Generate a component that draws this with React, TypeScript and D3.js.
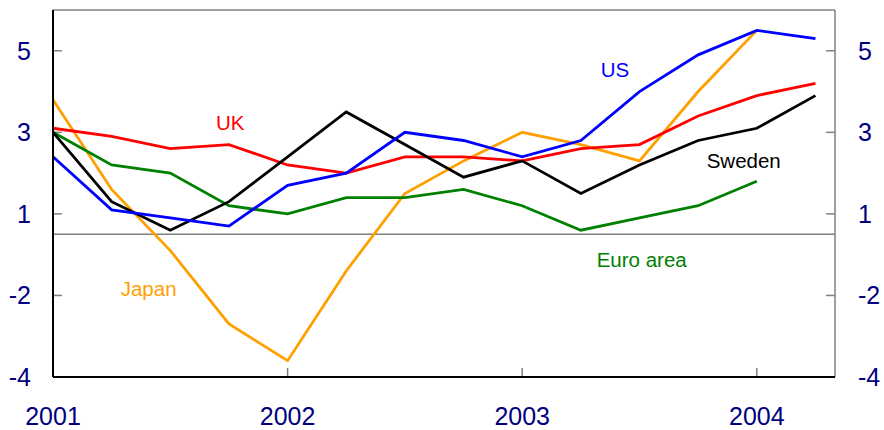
import { useRef, useEffect } from 'react';
import * as d3 from 'd3';

// quarterly observations, 2001Q1 .. 2004Q2
const quarters = [
  2001, 2001.25, 2001.5, 2001.75,
  2002, 2002.25, 2002.5, 2002.75,
  2003, 2003.25, 2003.5, 2003.75,
  2004, 2004.25,
];

const usValues = [2.4, 1.1, 0.9, 0.7, 1.7, 2.0, 3.0, 2.8, 2.4, 2.8, 4.0, 4.9, 5.5, 5.3];
const ukValues = [3.1, 2.9, 2.6, 2.7, 2.2, 2.0, 2.4, 2.4, 2.3, 2.6, 2.7, 3.4, 3.9, 4.2];
const swedenValues = [3.0, 1.3, 0.6, 1.3, 2.4, 3.5, 2.7, 1.9, 2.3, 1.5, 2.2, 2.8, 3.1, 3.9];
const euroValues = [3.0, 2.2, 2.0, 1.2, 1.0, 1.4, 1.4, 1.6, 1.2, 0.6, 0.9, 1.2, 1.8];
const japanValues = [3.8, 1.6, 0.1, -1.7, -2.6, -0.4, 1.5, 2.3, 3.0, 2.7, 2.3, 4.0, 5.5];

const seriesNames = ['Japan', 'Euro area', 'UK', 'Sweden', 'US'];
const seriesColors = ['#ffa000', '#008000', '#ff0000', '#000000', '#0000ff'];

const yTickValues = [5, 3, 1, -1, -3];
const yTickLabels = ['5', '3', '1', '-2', '-4'];
const xTickValues = [2001, 2002, 2003, 2004];
const xTickLabels = ['2001', '2002', '2003', '2004'];
const refLine = 0.5;

export default function App() {
  const svgRef = useRef<SVGSVGElement | null>(null);
  const width = 884;
  const height = 430;

  useEffect(() => {
    const margin = { top: 10, right: 49, bottom: 53, left: 53 };
    const innerW = width - margin.left - margin.right;
    const innerH = height - margin.top - margin.bottom;

    d3.select(svgRef.current).selectAll('*').remove();
    const svg = d3.select(svgRef.current)
      .attr('width', width)
      .attr('height', height)
      .style('font-family', '"Liberation Sans", Arial, sans-serif');

    const g = svg.append('g')
      .attr('transform', `translate(${margin.left},${margin.top})`);

    const xScale = d3.scaleLinear()
      .domain([2001, 2004 + 1 / 3])
      .range([0, innerW]);
    const yScale = d3.scaleLinear()
      .domain([-3, 6])
      .range([innerH, 0]);

    // frame: top and right in grey
    g.append('line')
      .attr('x1', 0).attr('x2', innerW).attr('y1', 0).attr('y2', 0)
      .attr('stroke', '#808080').attr('stroke-width', 1.5);
    g.append('line')
      .attr('x1', innerW).attr('x2', innerW).attr('y1', 0).attr('y2', innerH)
      .attr('stroke', '#808080').attr('stroke-width', 1.5);

    // reference line
    g.append('line')
      .attr('x1', 0).attr('x2', innerW)
      .attr('y1', yScale(refLine)).attr('y2', yScale(refLine))
      .attr('stroke', '#808080').attr('stroke-width', 1.5);

    // tick marks
    yTickValues.slice(0, -1).forEach((v) => {
      g.append('line')
        .attr('x1', 0).attr('x2', 9).attr('y1', yScale(v)).attr('y2', yScale(v))
        .attr('stroke', '#808080').attr('stroke-width', 1.5);
      g.append('line')
        .attr('x1', innerW - 9).attr('x2', innerW).attr('y1', yScale(v)).attr('y2', yScale(v))
        .attr('stroke', '#808080').attr('stroke-width', 1.5);
    });
    xTickValues.slice(1).forEach((v) => {
      g.append('line')
        .attr('x1', xScale(v)).attr('x2', xScale(v)).attr('y1', innerH - 9).attr('y2', innerH)
        .attr('stroke', '#808080').attr('stroke-width', 1.5);
    });

    // series lines
    const allValues = [japanValues, euroValues, ukValues, swedenValues, usValues];
    const line = d3.line<number>()
      .x((_, i) => xScale(quarters[i]))
      .y((d) => yScale(d));
    allValues.forEach((vals, i) => {
      g.append('path')
        .datum(vals)
        .attr('d', line)
        .attr('fill', 'none')
        .attr('stroke', seriesColors[i])
        .attr('stroke-width', 2.8)
        .attr('stroke-linejoin', 'miter');
    });

    // left and bottom axes in black
    g.append('line')
      .attr('x1', 0).attr('x2', 0).attr('y1', 0).attr('y2', innerH)
      .attr('stroke', '#000').attr('stroke-width', 2);
    g.append('line')
      .attr('x1', 0).attr('x2', innerW).attr('y1', innerH).attr('y2', innerH)
      .attr('stroke', '#000').attr('stroke-width', 2);

    // axis labels
    yTickValues.forEach((v, i) => {
      g.append('text')
        .attr('x', -22).attr('y', yScale(v)).attr('dy', '0.36em')
        .attr('text-anchor', 'end')
        .attr('fill', '#000080')
        .style('font-size', '25px')
        .text(yTickLabels[i]);
      g.append('text')
        .attr('x', innerW + 23).attr('y', yScale(v)).attr('dy', '0.36em')
        .attr('text-anchor', 'start')
        .attr('fill', '#000080')
        .style('font-size', '25px')
        .text(yTickLabels[i]);
    });
    xTickValues.forEach((v, i) => {
      g.append('text')
        .attr('x', xScale(v)).attr('y', innerH + 48)
        .attr('text-anchor', 'middle')
        .attr('fill', '#000080')
        .style('font-size', '25px')
        .text(xTickLabels[i]);
    });

    // series labels
    const labelPos: [number, number][] = [
      [120.7, 296], // Japan
      [596.7, 266.7], // Euro area
      [216, 130], // UK
      [706.7, 168.3], // Sweden
      [600.7, 76.7], // US
    ];
    seriesNames.forEach((name, i) => {
      svg.append('text')
        .attr('x', labelPos[i][0]).attr('y', labelPos[i][1])
        .attr('fill', seriesColors[i])
        .style('font-size', '20.5px')
        .text(name);
    });
  }, []);

  return <svg ref={svgRef} style={{ position: 'absolute', left: 0, top: 0 }}></svg>;
}
